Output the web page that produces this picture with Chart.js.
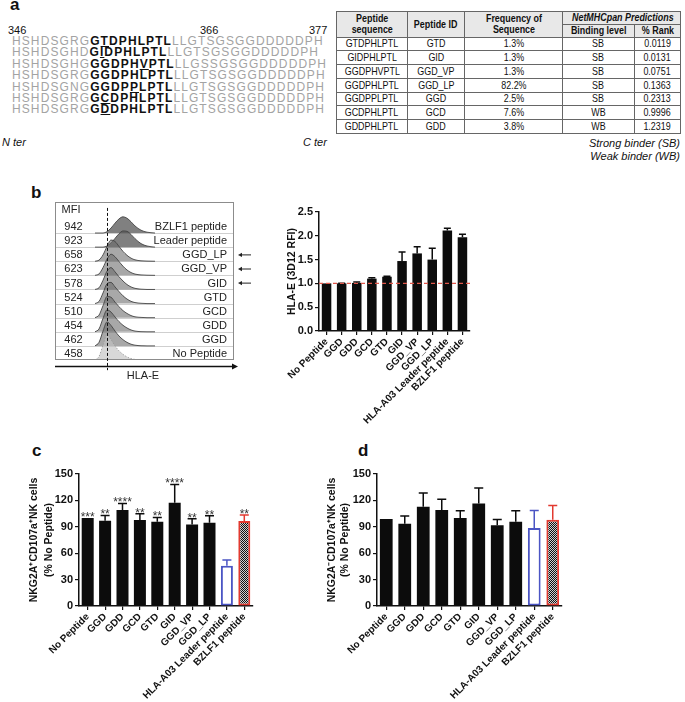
<!DOCTYPE html>
<html>
<head>
<meta charset="utf-8">
<script src="https://cdn.jsdelivr.net/npm/chart.js@4.4.0/dist/chart.umd.min.js"></script>
<style>
body { margin: 0; background: #fff; font-family: "Liberation Sans", Arial, sans-serif; color: #111; }
#page { position: relative; width: 685px; height: 702px; overflow: hidden; }
.lbl { position: absolute; font-weight: bold; font-size: 17px; line-height: 17px; }
.txt { position: absolute; font-size: 11px; line-height: 12px; white-space: nowrap; }
#seq { position: absolute; left: 12px; top: 36px; font-size: 12px; letter-spacing: 1.1px; line-height: 11.4px; color: #a3a3a3; white-space: nowrap; }
#seq div { height: 11.4px; }
#seq b { color: #111; }
#seq u { text-underline-offset: 1px; }
#tbl { position: absolute; left: 336px; top: 11px; width: 344px; border-collapse: collapse; table-layout: fixed; }
#tbl th, #tbl td { border: 1px solid #666; padding: 0; text-align: center; font-size: 10.5px; line-height: 11.5px; white-space: nowrap; overflow: hidden; }
#tbl th { background: #e8e8e8; font-weight: bold; }
#tbl td { height: 12.8px; }
#tbl .n { display: inline-block; transform: scaleX(0.85); }
canvas { position: absolute; }
</style>
</head>
<body>
<div id="page">
  <div class="lbl" style="left:10px;top:-4px">a</div>
  <div class="lbl" style="left:31px;top:184px">b</div>
  <div class="lbl" style="left:32px;top:442px">c</div>
  <div class="lbl" style="left:358px;top:442px">d</div>

  <div class="txt" style="left:8px;top:24px">346</div>
  <div class="txt" style="left:200px;top:24px">366</div>
  <div class="txt" style="left:309px;top:24px">377</div>
  <div id="seq"></div>
  <div class="txt" style="left:2px;top:136px;font-style:italic">N ter</div>
  <div class="txt" style="left:303px;top:136px;font-style:italic">C ter</div>

  <table id="tbl">
    <colgroup><col style="width:71px"><col style="width:57px"><col style="width:98px"><col style="width:72px"><col style="width:46px"></colgroup>
    <thead>
      <tr style="height:12px"><th rowspan="2"><span class="n">Peptide<br>sequence</span></th><th rowspan="2"><span class="n">Peptide ID</span></th><th rowspan="2"><span class="n">Frequency of<br>Sequence</span></th><th colspan="2"><span class="n"><i>NetMHCpan Predictions</i></span></th></tr>
      <tr style="height:13px"><th><span class="n">Binding level</span></th><th><span class="n">% Rank</span></th></tr>
    </thead>
    <tbody id="tbody"></tbody>
  </table>
  <div class="txt" style="right:5px;top:137px;font-style:italic;text-align:right;line-height:12.5px">Strong binder (SB)<br>Weak binder (WB)</div>

  <canvas id="ridge" width="230" height="190" style="left:40px;top:195px"></canvas>
  <canvas id="rfi" width="220" height="230" style="left:265px;top:195px"></canvas>
  <canvas id="nkPos" width="265" height="247" style="left:5px;top:455px"></canvas>
  <canvas id="nkNeg" width="260" height="247" style="left:310px;top:455px"></canvas>
</div>

<script>
// panel a: sequence alignment and NetMHCpan table
const seqPrefix = ['HSHDSGRG', 'HSHDSGHD', 'HSHDSGHG', 'HSHDSGRG', 'HSHDSGNG', 'HSHDSGRG', 'HSHDSGRG'];
const seqCore = ['GTDPHLPTL', 'GIDPHLPTL', 'GGDPHVPTL', 'GGDPHLPTL', 'GGDPPLPTL', 'GCDPHLPTL', 'GDDPHLPTL'];
const seqSuffix = ['LLGTSGSGGDDDDDPH', 'LLGTSGSGGDDDDDPH', 'LLGSSGSGGDDDDDPH', 'LLGTSGSGGDDDDDPH', 'LLGTSGSGGDDDDDPH', 'LLGTSGSGGDDDDDPH', 'LLGTSGSGGDDDDDPH'];
const seqMut = [1, 1, 5, -1, 4, 1, 1];

const pepSeq = ['GTDPHLPTL', 'GIDPHLPTL', 'GGDPHVPTL', 'GGDPHLPTL', 'GGDPPLPTL', 'GCDPHLPTL', 'GDDPHLPTL'];
const pepId = ['GTD', 'GID', 'GGD_VP', 'GGD_LP', 'GGD', 'GCD', 'GDD'];
const pepFreq = ['1.3%', '1.3%', '1.3%', '82.2%', '2.5%', '7.6%', '3.8%'];
const pepBind = ['SB', 'SB', 'SB', 'SB', 'SB', 'WB', 'WB'];
const pepRank = ['0.0119', '0.0131', '0.0751', '0.1363', '0.2313', '0.9996', '1.2319'];

// panel b left: offset histograms (top row first)
const histLabels = ['BZLF1 peptide', 'Leader peptide', 'GGD_LP', 'GGD_VP', 'GID', 'GTD', 'GCD', 'GDD', 'GGD', 'No Peptide'];
const histMfi = [942, 923, 658, 623, 578, 524, 510, 454, 462, 458];
const histArrow = [false, false, true, true, true, false, false, false, false, false];
const histX = [40, 44, 48, 52, 56, 60, 64, 68, 72, 76, 80, 86, 92, 100];
const histBZLF1 = [0, 0, 0, 0.1, 0.35, 0.7, 1.0, 1.15, 1.05, 0.8, 0.5, 0.2, 0.06, 0];
const histLeader = [0, 0, 0, 0.08, 0.3, 0.62, 0.95, 1.15, 1.12, 0.9, 0.6, 0.25, 0.08, 0];
const histGGD_LP = [0, 0.08, 0.45, 1.05, 1.5, 1.4, 1.05, 0.7, 0.42, 0.22, 0.1, 0.03, 0.01, 0];
const histGGD_VP = [0, 0.1, 0.55, 1.15, 1.5, 1.32, 0.98, 0.65, 0.38, 0.2, 0.09, 0.03, 0.01, 0];
const histGID = [0, 0.12, 0.65, 1.3, 1.55, 1.25, 0.9, 0.6, 0.35, 0.18, 0.08, 0.02, 0, 0];
const histGTD = [0, 0.15, 0.75, 1.4, 1.5, 1.18, 0.85, 0.55, 0.32, 0.16, 0.07, 0.02, 0, 0];
const histGCD = [0, 0.18, 0.85, 1.5, 1.45, 1.1, 0.78, 0.5, 0.3, 0.15, 0.06, 0.02, 0, 0];
const histGDD = [0, 0.2, 0.95, 1.55, 1.4, 1.05, 0.72, 0.46, 0.27, 0.13, 0.05, 0.01, 0, 0];
const histGGD = [0, 0.25, 1.05, 1.7, 1.45, 1.05, 0.7, 0.44, 0.25, 0.12, 0.05, 0.01, 0, 0];
const histNoPep = [0, 0.25, 1.05, 1.8, 1.45, 1.0, 0.65, 0.4, 0.22, 0.1, 0.04, 0.01, 0, 0];
const histRows = [histBZLF1, histLeader, histGGD_LP, histGGD_VP, histGID, histGTD, histGCD, histGDD, histGGD, histNoPep];

// bar panels
const peptides = ['No Peptide', 'GGD', 'GDD', 'GCD', 'GTD', 'GID', 'GGD_VP', 'GGD_LP', 'HLA-A03 Leader peptide', 'BZLF1 peptide'];
const rfiMean = [1.0, 1.0, 1.01, 1.10, 1.14, 1.47, 1.63, 1.50, 2.11, 1.97];
const rfiSem = [0, 0.005, 0.02, 0.02, 0.01, 0.19, 0.14, 0.24, 0.05, 0.06];
const nkPosMean = [100, 96.8, 109, 97.6, 95.7, 117.4, 92.7, 94.6, 45.6, 96.5];
const nkPosSem = [0, 6.1, 7.6, 7.2, 4.9, 20.8, 6.4, 7.9, 6.8, 6.8];
const nkPosStars = ['***', '**', '****', '**', '**', '****', '**', '**', '', '**'];
const nkNegMean = [99, 93.4, 112.8, 109, 99.9, 116.6, 91.9, 95.7, 88.5, 98];
const nkNegSem = [0, 8.8, 15.6, 12.2, 8.3, 17.4, 6.5, 12.5, 20.1, 16.3];

// build panel a
const seqBox = document.getElementById('seq');
seqCore.forEach((core, i) => {
    let c = '';
    for (let k = 0; k < core.length; k++) {
        c += k === seqMut[i] ? '<u>' + core[k] + '</u>' : core[k];
    }
    const row = document.createElement('div');
    row.innerHTML = seqPrefix[i] + '<b>' + c + '</b>' + seqSuffix[i];
    seqBox.appendChild(row);
});
const tbody = document.getElementById('tbody');
pepSeq.forEach((s, i) => {
    const tr = document.createElement('tr');
    [s, pepId[i], pepFreq[i], pepBind[i], pepRank[i]].forEach(v => {
        const td = document.createElement('td');
        td.innerHTML = '<span class="n">' + v + '</span>';
        tr.appendChild(td);
    });
    tbody.appendChild(tr);
});

const FONT = '"Liberation Sans", Arial, sans-serif';

// panel b left: ridgeline decorations
const ridgeDecor = {
    id: 'ridgeDecor',
    beforeDatasetsDraw(chart) {
        const { ctx, chartArea: a, scales: { y } } = chart;
        ctx.save();
        ctx.strokeStyle = '#cfcfcf';
        ctx.lineWidth = 1;
        for (let r = 1; r < histLabels.length; r++) {
            const py = Math.round(y.getPixelForValue(r)) + 0.5;
            ctx.beginPath();
            ctx.moveTo(a.left, py);
            ctx.lineTo(a.right, py);
            ctx.stroke();
        }
        ctx.restore();
    },
    afterDatasetsDraw(chart) {
        const { ctx, chartArea: a, scales: { x, y } } = chart;
        ctx.save();
        ctx.strokeStyle = '#8c8c8c';
        ctx.lineWidth = 1;
        ctx.strokeRect(a.left + 0.5, a.top + 0.5, a.width - 1, a.height - 1);

        // gate line
        const gx = Math.round(x.getPixelForValue(52)) + 0.5;
        ctx.strokeStyle = '#111';
        ctx.setLineDash([3, 2]);
        ctx.beginPath();
        ctx.moveTo(gx, y.getPixelForValue(10.78));
        ctx.lineTo(gx, y.getPixelForValue(-0.72));
        ctx.stroke();
        ctx.setLineDash([]);

        // row labels
        ctx.fillStyle = '#222';
        ctx.font = '11px ' + FONT;
        ctx.textBaseline = 'middle';
        ctx.textAlign = 'center';
        ctx.fillText('MFI', x.getPixelForValue(16), y.getPixelForValue(10.62));
        histLabels.forEach((name, i) => {
            const base = histLabels.length - 1 - i;
            const py = y.getPixelForValue(base + 0.42);
            ctx.textAlign = 'center';
            ctx.fillText(String(histMfi[i]), x.getPixelForValue(18.5), py);
            ctx.textAlign = 'right';
            ctx.fillText(name, x.getPixelForValue(172), py);
            if (histArrow[i]) {
                const ay = y.getPixelForValue(base + 0.45);
                const x0 = x.getPixelForValue(183), x1 = x.getPixelForValue(196);
                ctx.strokeStyle = '#222';
                ctx.lineWidth = 1;
                ctx.beginPath();
                ctx.moveTo(x0 + 3, ay);
                ctx.lineTo(x1, ay);
                ctx.stroke();
                ctx.beginPath();
                ctx.moveTo(x0, ay);
                ctx.lineTo(x0 + 4, ay - 2.2);
                ctx.lineTo(x0 + 4, ay + 2.2);
                ctx.closePath();
                ctx.fill();
            }
        });

        // HLA-E axis arrow
        const ay = Math.round(y.getPixelForValue(-0.43)) + 0.5;
        const ax1 = x.getPixelForValue(183);
        ctx.strokeStyle = '#111';
        ctx.lineWidth = 1.5;
        ctx.beginPath();
        ctx.moveTo(a.left, ay);
        ctx.lineTo(ax1 - 4, ay);
        ctx.stroke();
        ctx.fillStyle = '#111';
        ctx.beginPath();
        ctx.moveTo(ax1, ay);
        ctx.lineTo(ax1 - 6, ay - 3);
        ctx.lineTo(ax1 - 6, ay + 3);
        ctx.closePath();
        ctx.fill();
        ctx.fillStyle = '#222';
        ctx.textAlign = 'center';
        ctx.fillText('HLA-E', x.getPixelForValue(88), y.getPixelForValue(-1.15));
        ctx.restore();
    }
};

const ridgeSets = [];
for (let i = histRows.length - 1; i >= 0; i--) {
    const base = histRows.length - 1 - i;
    const dark = i < 2, noPep = i === histRows.length - 1;
    ridgeSets.push({
        data: histX.map((v, j) => ({ x: v, y: base + histRows[i][j] })),
        fill: { value: base },
        backgroundColor: noPep ? 'rgba(195,195,195,0.65)' : dark ? 'rgba(85,85,85,0.75)' : 'rgba(105,105,105,0.58)',
        borderColor: noPep ? '#9a9a9a' : '#444',
        borderDash: noPep ? [1.5, 1.5] : [],
        borderWidth: 0.9,
        pointRadius: 0,
        cubicInterpolationMode: 'monotone'
    });
}

new Chart(document.getElementById('ridge'), {
    type: 'line',
    data: { datasets: ridgeSets },
    options: {
        responsive: false,
        animation: false,
        devicePixelRatio: 1,
        layout: { padding: { left: 15, right: 36, top: 7, bottom: 25 } },
        plugins: { legend: { display: false }, tooltip: { enabled: false } },
        scales: {
            x: { type: 'linear', min: 0, max: 179, display: false },
            y: { type: 'linear', min: 0, max: 11.2, display: false }
        }
    },
    plugins: [ridgeDecor]
});

// error bars, stars and reference line for the bar panels
const errorBars = {
    id: 'errbars',
    afterDatasetsDraw(chart, args, o) {
        const { ctx, chartArea: a, scales: { y } } = chart;
        const vals = chart.data.datasets[0].data;
        ctx.save();
        chart.getDatasetMeta(0).data.forEach((bar, i) => {
            const base = y.getPixelForValue(vals[i]);
            const top = y.getPixelForValue(vals[i] + o.sem[i]);
            if (o.sem[i] > 0) {
                ctx.strokeStyle = o.colors[i];
                ctx.lineWidth = 1.5;
                ctx.beginPath();
                ctx.moveTo(bar.x, base);
                ctx.lineTo(bar.x, top);
                ctx.moveTo(bar.x - o.cap, top);
                ctx.lineTo(bar.x + o.cap, top);
                ctx.stroke();
            }
            if (o.stars && o.stars[i]) {
                ctx.fillStyle = '#333';
                ctx.font = '12px ' + FONT;
                ctx.textAlign = 'center';
                ctx.textBaseline = 'alphabetic';
                ctx.fillText(o.stars[i], bar.x, top + 3);
            }
        });
        if (o.refLine != null) {
            const py = y.getPixelForValue(o.refLine);
            ctx.strokeStyle = '#e0574b';
            ctx.lineWidth = 1.2;
            ctx.setLineDash([4, 3]);
            ctx.beginPath();
            ctx.moveTo(a.left, py);
            ctx.lineTo(a.right + 3, py);
            ctx.stroke();
        }
        ctx.restore();
    }
};

function checker() {
    const c = document.createElement('canvas');
    c.width = 2;
    c.height = 2;
    const g = c.getContext('2d');
    g.fillStyle = '#cfcfcf';
    g.fillRect(0, 0, 2, 2);
    g.fillStyle = '#111';
    g.fillRect(0, 0, 1, 1);
    g.fillRect(1, 1, 1, 1);
    return g.createPattern(c, 'repeat');
}

function barChart(id, mean, sem, opt) {
    return new Chart(document.getElementById(id), {
        type: 'bar',
        data: {
            labels: peptides,
            datasets: [{
                data: mean,
                backgroundColor: opt.fills,
                borderColor: opt.borders,
                borderWidth: opt.borderWidths,
                borderSkipped: false,
                barPercentage: opt.bar,
                categoryPercentage: 1
            }]
        },
        options: {
            responsive: false,
            animation: false,
            devicePixelRatio: 1,
            layout: { padding: { top: opt.top, right: opt.right, left: 0, bottom: 0 } },
            plugins: {
                legend: { display: false },
                tooltip: { enabled: false },
                errbars: { sem: sem, colors: opt.errColors, stars: opt.stars, cap: opt.cap, refLine: opt.refLine }
            },
            scales: {
                x: {
                    grid: { drawOnChartArea: false, offset: false, tickLength: 4, color: '#111', lineWidth: 1.2 },
                    border: { color: '#111', width: 1.5 },
                    ticks: { autoSkip: false, minRotation: 45, maxRotation: 45, padding: 1, color: '#111', font: { family: FONT, size: 10, weight: 'bold' } },
                    afterFit: s => { s.height = opt.xh; }
                },
                y: {
                    min: 0,
                    max: opt.max,
                    ticks: { stepSize: opt.step, padding: 2, color: '#111', font: { family: FONT, size: 11, weight: 'bold' }, callback: opt.fmt },
                    grid: { drawOnChartArea: false, tickLength: 4, color: '#111', lineWidth: 1.2 },
                    border: { color: '#111', width: 1.5 },
                    title: { display: true, text: opt.title, color: '#111', font: { family: FONT, size: 10.5, weight: 'bold', lineHeight: opt.lh }, padding: { top: opt.tpad, bottom: 0 } },
                    afterFit: s => { s.width = opt.yw; }
                }
            }
        },
        plugins: [errorBars]
    });
}

const black = '#0c0c0c';
const pattern = checker();
const fillsNK = [black, black, black, black, black, black, black, black, '#ffffff', pattern];
const bordersNK = [black, black, black, black, black, black, black, black, '#4b55c4', '#e23a30'];
const bwNK = [0, 0, 0, 0, 0, 0, 0, 0, 2, 2];
const errNK = [black, black, black, black, black, black, black, black, '#4b55c4', '#e23a30'];

barChart('rfi', rfiMean, rfiSem, {
    fills: black, borders: black, borderWidths: 0, bar: 0.63,
    errColors: peptides.map(() => black), stars: null, cap: 3.5, refLine: 1,
    top: 17, right: 15, xh: 94, yw: 54, max: 2.5, step: 0.5,
    fmt: v => v.toFixed(1), title: 'HLA-E (3D12 RFI)', tpad: 21, lh: 1.2
});
barChart('nkPos', nkPosMean, nkPosSem, {
    fills: fillsNK, borders: bordersNK, borderWidths: bwNK, bar: 0.69,
    errColors: errNK, stars: nkPosStars, cap: 4.5, refLine: null,
    top: 19, right: 17, xh: 96, yw: 74, max: 150, step: 30,
    fmt: v => v, title: ['NKG2A\u207ACD107a\u207ANK cells', '(% No Peptide)'], tpad: 22, lh: 1.4
});
barChart('nkNeg', nkNegMean, nkNegSem, {
    fills: fillsNK, borders: bordersNK, borderWidths: bwNK, bar: 0.69,
    errColors: errNK, stars: null, cap: 4.5, refLine: null,
    top: 19, right: 8, xh: 96, yw: 67, max: 150, step: 30,
    fmt: v => v, title: ['NKG2A\u207BCD107a\u207ANK cells', '(% No Peptide)'], tpad: 16, lh: 1.2
});
</script>
</body>
</html>
